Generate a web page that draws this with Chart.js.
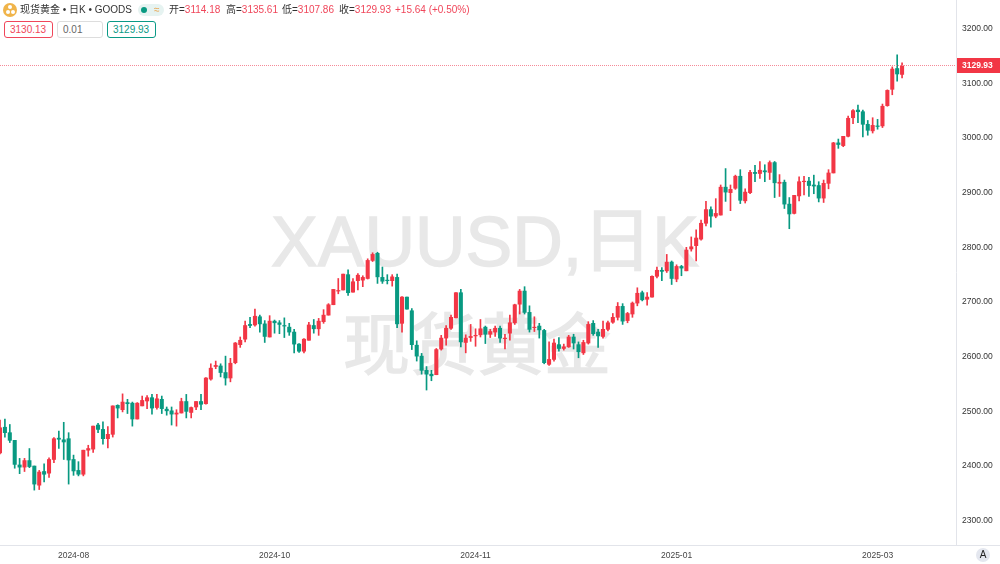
<!DOCTYPE html>
<html lang="zh">
<head>
  <meta charset="UTF-8" />
  <title>现货黄金 日K</title>
  <script src="https://cdn.jsdelivr.net/npm/chart.js"></script>
  <style>
    html, body { margin: 0; background: #fff; }
    #wrap { position: relative; width: 1000px; height: 564px; overflow: hidden; font-family: "Liberation Sans", "Noto Sans CJK SC", sans-serif; }
    canvas { position: absolute; left: 0; top: 0; }
    .wm { position: absolute; color: #e8e8e8; white-space: nowrap; line-height: 1; -webkit-text-stroke: 1.4px #e8e8e8; }
    .txt { position: absolute; top: 3px; font-size: 10px; line-height: 14px; white-space: nowrap; color: #333; }
    .red { color: #f0465a; }
    .box { position: absolute; top: 21px; height: 15px; line-height: 15px; border: 1px solid #ddd; border-radius: 3px; font-size: 10px; color: #666; padding-left: 5px; background: #fff; }
    #logo { position: absolute; left: 3px; top: 3px; width: 14px; height: 14px; border-radius: 50%; background: #f0b44a; }
    #logo i { position: absolute; width: 4px; height: 4px; border-radius: 50%; background: #fff; }
    #pill { position: absolute; left: 138px; top: 4px; width: 26px; height: 12px; border-radius: 6px; background: #e6f3f1; }
    #pill b { position: absolute; left: 3px; top: 3px; width: 6px; height: 6px; border-radius: 50%; background: #089981; }
    #pill span { position: absolute; left: 16px; top: -1px; font-size: 10px; line-height: 13px; color: #e8a24a; }
    #autoBtn { position: absolute; left: 976px; top: 548px; width: 14px; height: 14px; border-radius: 50%; background: #e4e7ef; font-size: 10px; line-height: 14px; text-align: center; color: #222; }
  </style>
</head>
<body>
  <div id="wrap">
    <div class="wm" style="left:271px;top:207px;font-size:70px;">XAUUSD,日K</div>
    <div class="wm" style="left:343px;top:306px;font-size:67px;font-family:'Noto Sans CJK SC';">现货黄金</div>
    <canvas id="chart" width="1000" height="564"></canvas>
    <div id="logo"><i style="left:5px;top:2px"></i><i style="left:2.5px;top:7px"></i><i style="left:7.5px;top:7px"></i></div>
    <div class="txt" style="left:20px;">现货黄金 • 日K • GOODS</div>
    <div id="pill"><b></b><span>≈</span></div>
    <div class="txt" style="left:169px;">开=<span class="red">3114.18</span></div>
    <div class="txt" style="left:226px;">高=<span class="red">3135.61</span></div>
    <div class="txt" style="left:282px;">低=<span class="red">3107.86</span></div>
    <div class="txt" style="left:339px;">收=<span class="red">3129.93</span></div>
    <div class="txt red" style="left:395px;">+15.64 (+0.50%)</div>
    <div class="box" style="left:4px;width:42px;border-color:#f0465a;color:#f0465a;">3130.13</div>
    <div class="box" style="left:57px;width:39px;">0.01</div>
    <div class="box" style="left:107px;width:42px;border-color:#0a9a86;color:#0a9a86;">3129.93</div>
    <div id="autoBtn">A</div>
  </div>

  <script>
    const slots = 196; // 185 candles + empty room on the right
    const opens = [2422,2469,2459,2445,2400,2396,2408,2398,2363,2388,2385,2410,2449,2446,2448,2410,2390,2383,2427,2429,
      2473,2465,2448,2456,2509,2501,2514,2513,2484,2508,2517,2523,2505,2520,2502,2499,2493,2495,2516,2496,
      2506,2516,2512,2557,2580,2581,2569,2559,2587,2620,2630,2657,2656,2671,2658,2634,2663,2660,2655,2652,
      2643,2621,2608,2628,2655,2649,2662,2674,2693,2718,2720,2748,2716,2737,2738,2741,2774,2787,2743,2738,
      2737,2743,2659,2707,2682,2619,2599,2573,2566,2565,2612,2632,2650,2669,2715,2624,2633,2636,2638,2652,
      2639,2643,2650,2631,2641,2660,2694,2718,2679,2651,2654,2646,2584,2593,2620,2613,2616,2634,2620,2605,
      2623,2659,2643,2635,2648,2661,2670,2690,2664,2676,2696,2715,2703,2707,2745,2756,2755,2771,2740,2763,
      2755,2795,2801,2813,2842,2867,2855,2857,2908,2898,2906,2928,2883,2898,2935,2933,2938,2935,2953,2915,
      2917,2877,2860,2892,2918,2919,2912,2911,2888,2915,2934,2989,2984,3001,3035,3049,3046,3023,3011,3020,
      3020,3057,3087,3125,3114.18];
    const highs = [2482,2484,2474,2445,2412,2412,2430,2398,2390,2402,2413,2450,2462,2478,2459,2418,2406,2427,2436,2471,
      2476,2479,2470,2508,2510,2530,2520,2515,2514,2526,2527,2529,2529,2526,2506,2506,2501,2522,2529,2506,
      2516,2529,2560,2585,2590,2585,2599,2595,2624,2634,2663,2670,2685,2674,2664,2673,2665,2664,2669,2659,
      2648,2622,2631,2661,2666,2668,2684,2695,2721,2741,2749,2757,2741,2750,2746,2777,2788,2789,2762,2748,
      2748,2749,2708,2707,2686,2627,2604,2580,2573,2613,2637,2655,2674,2715,2721,2638,2657,2649,2666,2654,
      2648,2654,2654,2639,2674,2694,2721,2726,2691,2671,2659,2648,2625,2630,2633,2621,2637,2639,2625,2628,
      2662,2664,2648,2663,2663,2677,2697,2695,2679,2698,2724,2718,2715,2746,2762,2761,2785,2773,2766,2765,
      2798,2817,2830,2848,2882,2872,2887,2912,2942,2912,2930,2940,2905,2939,2948,2955,2949,2956,2955,2931,
      2921,2889,2893,2927,2928,2926,2930,2918,2921,2940,2990,2996,3001,3038,3050,3058,3049,3030,3035,3032,
      3060,3086,3128,3150,3135.61];
    const lows = [2420,2451,2441,2394,2384,2388,2395,2354,2355,2369,2377,2404,2430,2410,2365,2381,2380,2380,2416,2423,
      2459,2438,2431,2451,2486,2497,2494,2471,2484,2508,2503,2493,2502,2494,2491,2473,2471,2495,2486,2486,
      2501,2501,2511,2555,2576,2561,2546,2552,2585,2615,2625,2651,2654,2643,2624,2634,2641,2640,2633,2637,
      2605,2606,2605,2628,2641,2637,2659,2674,2693,2713,2720,2710,2716,2720,2726,2740,2772,2732,2732,2731,
      2727,2651,2643,2685,2611,2590,2566,2537,2554,2565,2610,2619,2648,2669,2616,2605,2626,2617,2634,2622,
      2633,2635,2624,2612,2628,2657,2676,2676,2643,2644,2632,2585,2582,2590,2608,2610,2615,2612,2596,2602,
      2621,2637,2615,2632,2645,2659,2665,2657,2660,2670,2691,2700,2692,2707,2742,2737,2752,2730,2735,2746,
      2755,2791,2773,2811,2837,2835,2852,2857,2882,2865,2904,2878,2879,2896,2918,2924,2918,2922,2889,2891,
      2869,2832,2859,2883,2894,2891,2896,2881,2880,2905,2934,2979,2982,3000,3024,3026,3000,3003,3007,3014,
      3017,3056,3077,3102,3107.86];
    const closes = [2468,2459,2445,2401,2396,2408,2397,2365,2387,2383,2410,2448,2447,2442,2409,2389,2383,2427,2430,2471,
      2465,2448,2456,2508,2504,2515,2512,2484,2513,2518,2523,2504,2521,2503,2499,2493,2495,2516,2498,2505,
      2516,2511,2559,2577,2582,2569,2559,2586,2623,2628,2655,2655,2672,2658,2635,2663,2660,2657,2654,2643,
      2621,2608,2630,2656,2649,2663,2674,2693,2721,2719,2749,2715,2735,2747,2743,2774,2785,2744,2736,2737,
      2744,2658,2707,2685,2620,2599,2573,2566,2563,2611,2632,2650,2670,2715,2625,2632,2635,2637,2649,2639,
      2644,2650,2632,2632,2660,2693,2718,2679,2648,2652,2647,2587,2593,2623,2613,2616,2634,2623,2607,2624,
      2657,2640,2636,2648,2660,2670,2690,2663,2677,2696,2714,2702,2707,2745,2756,2754,2771,2741,2763,2760,
      2793,2799,2815,2842,2867,2855,2860,2908,2899,2904,2928,2884,2899,2935,2933,2939,2936,2953,2916,2917,
      2877,2859,2893,2918,2919,2911,2910,2888,2915,2934,2989,2986,3001,3034,3048,3046,3023,3012,3021,3019,
      3056,3085,3124,3115,3129.93];
    const yTicks = [2300,2400,2500,2600,2700,2800,2900,3000,3100,3200];
    const xTickIndex = [15,56,97,138,179];
    const xTickLabels = ['2024-08','2024-10','2024-11','2025-01','2025-03'];
    const lastPrice = 3129.93;

    const upColor = '#f23645', downColor = '#089981', axisLine = '#e2e4ea';
    const categories = Array.from({ length: slots }, (_, i) => i);
    const candleColors = closes.map((c, i) => c >= opens[i] ? upColor : downColor);

    // axis rules and the last price line + tag
    const lastPricePlugin = {
      id: 'lastPrice',
      afterDatasetsDraw(chart) {
        const { ctx, chartArea, scales } = chart;
        const y = Math.floor(scales.y.getPixelForValue(lastPrice)) + 0.5;
        ctx.save();
        ctx.strokeStyle = axisLine;
        ctx.lineWidth = 1;
        ctx.beginPath();
        ctx.moveTo(chartArea.right + 0.5, 0);
        ctx.lineTo(chartArea.right + 0.5, chartArea.bottom);
        ctx.moveTo(0, chartArea.bottom + 0.5);
        ctx.lineTo(1000, chartArea.bottom + 0.5);
        ctx.stroke();
        ctx.strokeStyle = '#f58a98';
        ctx.setLineDash([1, 1]);
        ctx.beginPath();
        ctx.moveTo(0, y);
        ctx.lineTo(chartArea.right, y);
        ctx.stroke();
        ctx.setLineDash([]);
        ctx.fillStyle = upColor;
        ctx.fillRect(chartArea.right + 1, y - 7.5, 43, 15);
        ctx.fillStyle = '#fff';
        ctx.font = 'bold 8.5px "Liberation Sans", sans-serif';
        ctx.textBaseline = 'middle';
        ctx.fillText(lastPrice.toFixed(2), chartArea.right + 6, y + 0.5);
        ctx.restore();
      }
    };

    new Chart(document.getElementById('chart').getContext('2d'), {
      type: 'bar',
      data: {
        labels: categories,
        datasets: [
          {
            label: 'body',
            data: opens.map((o, i) => [o, closes[i]]),
            backgroundColor: candleColors,
            barThickness: 3.4,
            grouped: false,
            order: 1
          },
          {
            label: 'wick',
            data: lows.map((l, i) => [l, highs[i]]),
            backgroundColor: candleColors,
            barThickness: 1,
            grouped: false,
            order: 2
          }
        ]
      },
      options: {
        responsive: false,
        animation: false,
        layout: { padding: 0 },
        plugins: { legend: { display: false }, tooltip: { enabled: false } },
        scales: {
          x: {
            offset: false,
            grid: { display: false, drawTicks: false },
            border: { display: false },
            afterFit(scale) { scale.height = 19; scale.paddingLeft = 0; scale.paddingRight = 0; },
            afterBuildTicks(scale) { scale.ticks = xTickIndex.map(v => ({ value: v })); },
            ticks: {
              autoSkip: false,
              maxRotation: 0,
              padding: 6,
              color: '#444',
              font: { size: 8.5, family: '"Liberation Sans", sans-serif' },
              callback: v => xTickLabels[xTickIndex.indexOf(v)]
            }
          },
          y: {
            position: 'right',
            min: 2253.6,
            max: 3250.3,
            grid: { display: false, drawTicks: false },
            border: { display: false },
            afterFit(scale) { scale.width = 44; scale.paddingTop = 0; scale.paddingBottom = 0; },
            afterBuildTicks(scale) { scale.ticks = yTicks.map(v => ({ value: v })); },
            ticks: {
              padding: 6,
              labelOffset: 1,
              color: '#333',
              font: { size: 8.5, family: '"Liberation Sans", sans-serif' },
              callback: v => v.toFixed(2)
            }
          }
        }
      },
      plugins: [lastPricePlugin]
    });
  </script>
</body>
</html>
